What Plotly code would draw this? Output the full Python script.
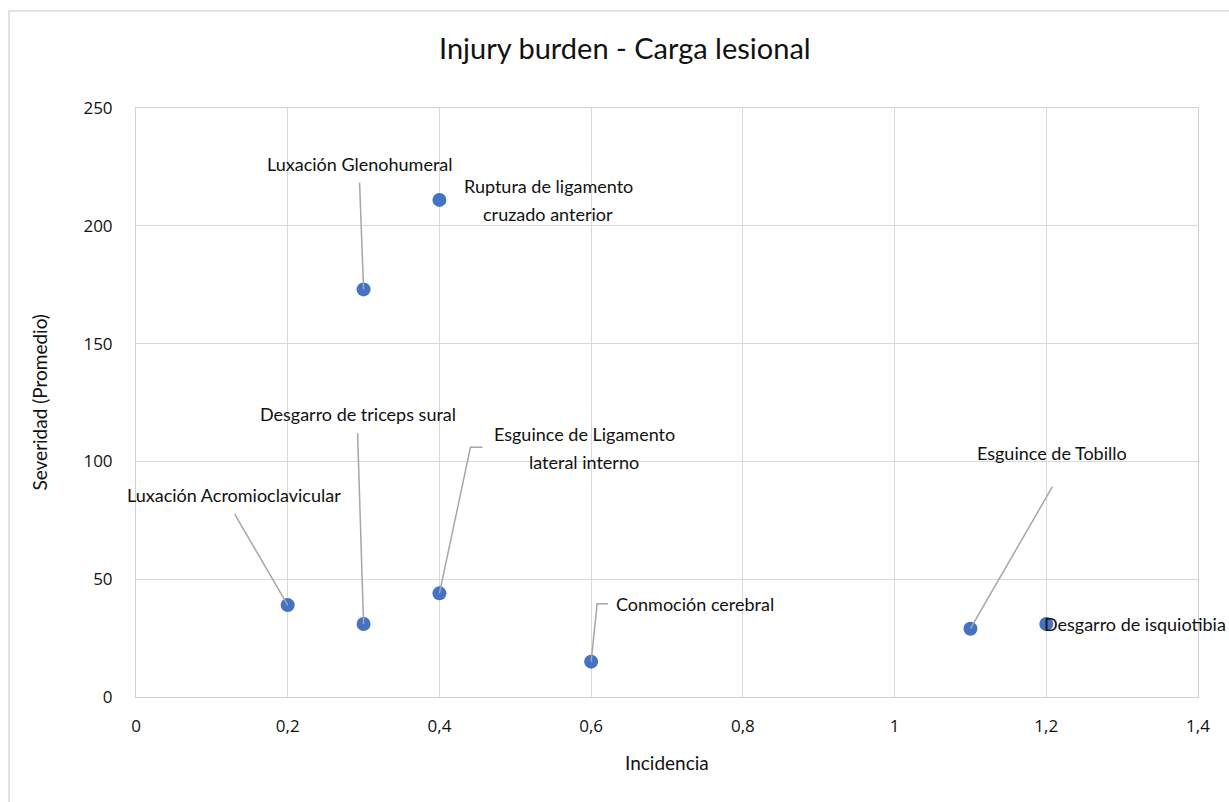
import plotly.graph_objects as go

# ---- data ----
lesiones = [
    "Luxación Acromioclavicular",
    "Desgarro de triceps sural",
    "Luxación Glenohumeral",
    "Ruptura de ligamento<br>cruzado anterior",
    "Esguince de Ligamento<br>lateral interno",
    "Conmoción cerebral",
    "Esguince de Tobillo",
    "Desgarro de isquiotibia",
]
incidencia = [0.2, 0.3, 0.3, 0.4, 0.4, 0.6, 1.1, 1.2]
severidad = [39, 31, 173, 211, 44, 15, 29, 31]

x_ticks = [0, 0.2, 0.4, 0.6, 0.8, 1.0, 1.2, 1.4]
y_ticks = [0, 50, 100, 150, 200, 250]

# ---- label layout (pixel offsets from each point, screen y down) ----
label_offsets = [(-54, -110), (-6, -210), (-4, -125), (109, 0),
                 (145, -145), (104, -58), (82, -176), (89, 0)]
leader_paths = [
    [(0, 0), (-53, -91)],
    [(0, 0), (-6, -191)],
    [(0, 0), (-4, -107)],
    None,
    [(0, 0), (31, -146), (43, -146)],
    [(0, 0), (6, -58), (17, -58)],
    [(0, 0), (82, -142)],
    None,
]
LINE_GAP = 28

W, H = 1229, 802
L, R, T, B = 136, 1198, 108, 697
PX_X = (R - L) / 1.4
PX_Y = (B - T) / 250.0

LABEL_FONT = "Lato, sans-serif"
TICK_FONT = "Open Sans, sans-serif"
TXT = "#111111"
GRID = "#d9d9d9"

fig = go.Figure()
fig.add_trace(go.Scatter(
    x=incidencia, y=severidad, mode="markers",
    marker=dict(color="#4472C4", size=14),
    hoverinfo="x+y", showlegend=False,
))

for xi, yi, path in zip(incidencia, severidad, leader_paths):
    if path is None:
        continue
    lx = [xi + dx / PX_X for dx, dy in path]
    ly = [yi - dy / PX_Y for dx, dy in path]
    fig.add_trace(go.Scatter(
        x=lx, y=ly, mode="lines",
        line=dict(color="#a6a6a6", width=1.5),
        hoverinfo="skip", showlegend=False,
    ))

annotations = []
for name, xi, yi, (dx, dy) in zip(lesiones, incidencia, severidad, label_offsets):
    lines = name.split("<br>")
    n = len(lines)
    for k, line in enumerate(lines):
        off = (k - (n - 1) / 2) * LINE_GAP
        annotations.append(dict(
            x=xi, y=yi, xref="x", yref="y", text=line, showarrow=False,
            xshift=dx, yshift=-(dy + off), xanchor="center", yanchor="middle",
            align="center", font=dict(family=LABEL_FONT, size=18, color=TXT),
        ))

annotations.append(dict(
    x=(625 - L) / (R - L), y=(B - 48) / (B - T), xref="paper", yref="paper",
    text="Injury burden - Carga lesional", showarrow=False,
    xanchor="center", yanchor="middle",
    font=dict(family=LABEL_FONT, size=29, color=TXT),
))
annotations.append(dict(
    x=0.5, y=(B - 762) / (B - T), xref="paper", yref="paper",
    text="Incidencia", showarrow=False, xanchor="center", yanchor="middle",
    font=dict(family=LABEL_FONT, size=19, color=TXT),
))
annotations.append(dict(
    x=(39 - L) / (R - L), y=0.5, xref="paper", yref="paper",
    text="Severidad (Promedio)", showarrow=False, textangle=-90,
    xanchor="center", yanchor="middle",
    font=dict(family=LABEL_FONT, size=19, color=TXT),
))

fig.update_layout(
    width=W, height=H,
    margin=dict(l=L, r=W - R, t=T, b=H - B, autoexpand=False),
    paper_bgcolor="white", plot_bgcolor="white",
    separators=",.",
    annotations=annotations,
    shapes=[dict(
        type="rect", xref="paper", yref="paper",
        x0=(9 - L) / (R - L), x1=(1260 - L) / (R - L),
        y0=(B - 830) / (B - T), y1=(B - 11) / (B - T),
        line=dict(color=GRID, width=1.5), layer="below",
    )],
)
fig.update_xaxes(
    range=[0, 1.4], tickvals=x_ticks, showgrid=True, gridcolor=GRID, gridwidth=1,
    showline=True, linecolor="#d0d0d0", linewidth=1, mirror=True, zeroline=False,
    ticks="", ticklabelstandoff=14,
    tickfont=dict(family=TICK_FONT, size=17, color=TXT),
)
fig.update_yaxes(
    range=[0, 250], tickvals=y_ticks, showgrid=True, gridcolor=GRID, gridwidth=1,
    showline=True, linecolor="#d0d0d0", linewidth=1, mirror=True, zeroline=False,
    ticks="", ticklabelstandoff=19,
    tickfont=dict(family=TICK_FONT, size=17, color=TXT),
)

fig.write_html(
    "out.html",
    config={"displayModeBar": False},
    post_script="document.body.style.margin='0';document.body.style.overflow='hidden';",
)
